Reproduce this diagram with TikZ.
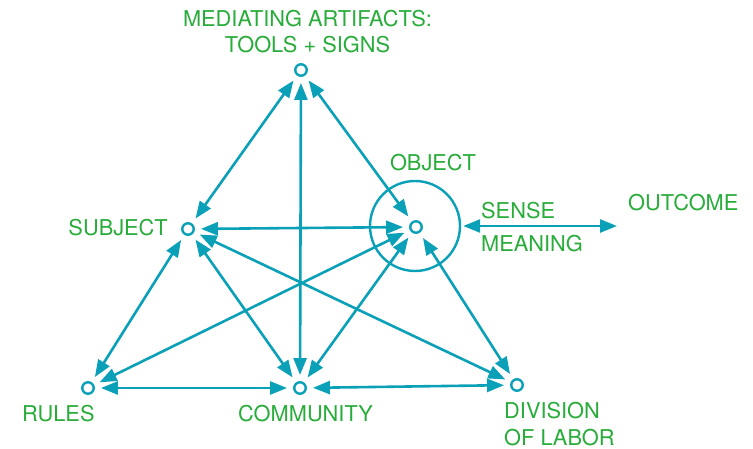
\documentclass[tikz,border=0pt]{standalone}
\usepackage{fontspec}
\setmainfont{TeX Gyre Heros}
\usetikzlibrary{arrows.meta}
\definecolor{linkteal}{RGB}{10,160,184}
\definecolor{labelgreen}{RGB}{40,172,58}
\tikzset{
  vertex/.style={circle, draw=linkteal, line width=2.4pt, fill=white, inner sep=0pt, minimum size=11.5pt},
  link/.style={draw=linkteal, line width=2.6pt,
    {Triangle[length=17pt,width=13pt]}-{Triangle[length=17pt,width=13pt]},
    shorten <=6pt, shorten >=6pt},
  caption/.style={text=labelgreen, inner sep=0pt, font=\fontsize{21.8}{25}\selectfont}
}
\begin{document}
\begin{tikzpicture}[x=1pt, y=-1pt]
  \useasboundingbox (0,0) rectangle (753,449);

  % activity system nodes
  \node[vertex] (tools) at (301,70) {};
  \node[vertex] (subject) at (188,229) {};
  \node[vertex] (object) at (416,227) {};
  \node[vertex] (rules) at (88,388) {};
  \node[vertex] (community) at (300,388) {};
  \node[vertex] (division) at (517,385) {};
  \node[circle, draw=linkteal, line width=2.4pt, inner sep=0pt, minimum size=90pt] (objring) at (415,226) {};
  \coordinate (outcome) at (617,226);

  % connections
  \draw[link] (tools) -- (subject);
  \draw[link] (tools) -- (community);
  \draw[link] (tools) -- (object);
  \draw[link] (subject) -- (object);
  \draw[link] (subject) -- (rules);
  \draw[link] (subject) -- (community);
  \draw[link] (subject) -- (division);
  \draw[link] (rules) -- (object);
  \draw[link] (rules) -- (community);
  \draw[link] (community) -- (object);
  \draw[link] (community) -- (division);
  \draw[link] (object) -- (division);
  \draw[link, shorten <=2pt, shorten >=0pt] (objring) -- (outcome);

  % labels
  \node[caption, anchor=base] (lblmed1) at (307.5,27) {MEDIATING ARTIFACTS:};
  \node[caption, anchor=base] (lblmed2) at (307.5,53) {TOOLS + SIGNS};
  \node[caption, anchor=base east] (lblsubj) at (168,236) {SUBJECT};
  \node[caption, anchor=base] (lblobj) at (433,171) {OBJECT};
  \node[caption, anchor=base west] (lblsense) at (481,219) {SENSE};
  \node[caption, anchor=base west] (lblmean) at (481,252) {MEANING};
  \node[caption, anchor=base west] (lblout) at (628,211) {OUTCOME};
  \node[caption, anchor=base west] (lblrules) at (22,421) {RULES};
  \node[caption, anchor=base] (lblcomm) at (305.5,421) {COMMUNITY};
  \node[caption, anchor=base west] (lbldiv1) at (504,418) {DIVISION};
  \node[caption, anchor=base west] (lbldiv2) at (504,445) {OF LABOR};
\end{tikzpicture}
\end{document}
